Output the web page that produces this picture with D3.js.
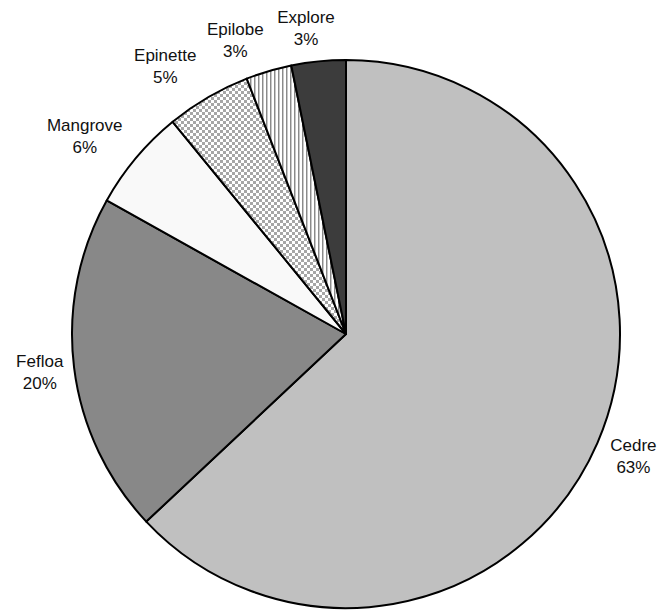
<!DOCTYPE html>
<html>
<head>
<meta charset="utf-8">
<script src="https://cdn.jsdelivr.net/npm/d3@7"></script>
<style>
  html, body { margin: 0; padding: 0; background: #fff; }
  svg { display: block; }
  text { font-family: "Liberation Sans", Arial, sans-serif; font-size: 17px; fill: #111; }
</style>
</head>
<body>
<svg id="chart" width="660" height="610"></svg>
<script>
// ---- data ----
const categories = ["Cedre", "Fefloa", "Mangrove", "Epinette", "Epilobe", "Explore"];
const values = [63, 20.1, 6, 5, 2.7, 3.2];

// ---- layout / style ----
const W = 660, H = 610;
const cx = 346, cy = 334, R = 274;
const fills = {
  "Cedre": "#c0c0c0",
  "Fefloa": "#888888",
  "Mangrove": "#f9f9f9",
  "Epinette": "url(#checker)",
  "Epilobe": "url(#vstripes)",
  "Explore": "#3c3c3c"
};
// small manual label adjustments (overlap avoidance like the source)
const labelNudge = {
  "Cedre": [0, -2], "Fefloa": [5, 0], "Mangrove": [-10, 2],
  "Epinette": [-19, 2], "Epilobe": [-21, 5], "Explore": [-8, 4]
};

const svg = d3.select("#chart");
const defs = svg.append("defs");

const chk = defs.append("pattern").attr("id", "checker")
  .attr("patternUnits", "userSpaceOnUse").attr("width", 6).attr("height", 6);
chk.append("rect").attr("width", 6).attr("height", 6).attr("fill", "#ffffff");
chk.append("rect").attr("width", 3).attr("height", 3).attr("fill", "#a6a6a6");
chk.append("rect").attr("x", 3).attr("y", 3).attr("width", 3).attr("height", 3).attr("fill", "#a6a6a6");

const vs = defs.append("pattern").attr("id", "vstripes")
  .attr("patternUnits", "userSpaceOnUse").attr("width", 4).attr("height", 4);
vs.append("rect").attr("width", 4).attr("height", 4).attr("fill", "#ffffff");
vs.append("rect").attr("x", 0).attr("width", 1).attr("height", 4).attr("fill", "#8a8a8a");
vs.append("rect").attr("x", 1).attr("width", 1).attr("height", 4).attr("fill", "#c8c8c8");

const data = categories.map((c, i) => ({ name: c, value: values[i] }));
const total = d3.sum(values);

const pie = d3.pie().value(d => d.value).sort(null).startAngle(0).endAngle(2 * Math.PI);
const arcs = pie(data);
const arc = d3.arc().innerRadius(0).outerRadius(R);

const g = svg.append("g").attr("transform", `translate(${cx},${cy})`);

g.selectAll("path.slice").data(arcs).enter().append("path")
  .attr("class", "slice")
  .attr("d", arc)
  .attr("fill", d => fills[d.data.name])
  .attr("stroke", "#000")
  .attr("stroke-width", 2)
  .attr("stroke-linejoin", "round");

// labels
const gap = 16, lineH = 22;
const labels = g.selectAll("g.lbl").data(arcs).enter().append("g").attr("class", "lbl");
labels.each(function(d) {
  const sel = d3.select(this);
  const pct = Math.round(d.data.value / total * 100) + "%";
  const t1 = sel.append("text").attr("text-anchor", "middle").text(d.data.name);
  const t2 = sel.append("text").attr("text-anchor", "middle").text(pct);
  const w = Math.max(t1.node().getComputedTextLength(), t2.node().getComputedTextLength());
  const h = lineH * 2;
  const mid = (d.startAngle + d.endAngle) / 2;
  const ux = Math.sin(mid), uy = -Math.cos(mid);
  const n = labelNudge[d.data.name] || [0, 0];
  const x = (R + gap) * ux + ux * w / 2 + n[0];
  const y = (R + gap) * uy + uy * h / 2 + n[1];
  t1.attr("x", x).attr("y", y - lineH / 2 + 6);
  t2.attr("x", x).attr("y", y + lineH / 2 + 6);
});
</script>
</body>
</html>
